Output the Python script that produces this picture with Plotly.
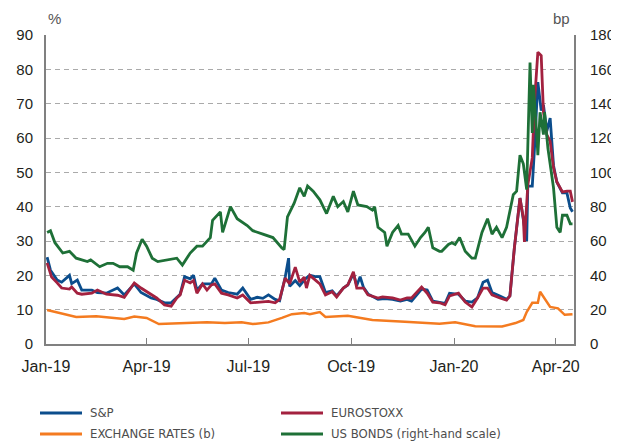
import pandas as pd
import plotly.graph_objects as go

BASE = pd.Timestamp("2019-01-01")

# S&P implied volatility (%), day offsets from 1 Jan 2019
sp_days = [1, 4, 10, 14, 21, 23, 28, 32, 41, 46, 54, 64, 70, 79, 85, 94, 99, 106, 112, 117, 120, 124, 129, 132,
           135, 140, 148, 151, 157, 163, 171, 176, 183, 189, 194, 199, 205, 209, 214, 217, 218, 223, 227, 232,
           234, 236, 241, 245, 250, 256, 260, 266, 270, 275, 278, 281, 284, 288, 297, 303, 310, 317, 323, 327,
           336, 341, 346, 352, 357, 361, 369, 375, 381, 386, 391, 395, 399, 406, 412, 415, 419, 424, 427, 430,
           431, 435, 437, 440, 443, 445, 448, 451, 454, 457, 462, 466, 469, 471]
sp_vals = [25.3, 21.5, 18.6, 18.0, 20.0, 17.6, 18.6, 15.7, 15.7, 15.0, 14.8, 16.3, 14.3, 17.5, 15.0, 13.4, 13.0,
           12.0, 12.0, 13.4, 14.5, 19.6, 19.0, 20.0, 15.7, 17.5, 17.5, 19.2, 15.7, 15.0, 14.5, 16.3, 13.0, 13.6,
           13.3, 14.3, 13.0, 12.6, 19.5, 25.0, 16.8, 18.5, 17.0, 19.0, 19.6, 20.0, 19.6, 19.6, 15.0, 15.5, 14.0,
           16.3, 17.2, 20.5, 17.0, 19.6, 16.5, 14.6, 13.0, 13.2, 13.0, 12.5, 13.0, 12.5, 16.0, 15.7, 12.5, 12.0,
           11.8, 14.8, 14.5, 12.5, 12.2, 13.4, 18.0, 18.6, 15.0, 14.0, 13.0, 14.0, 28.0, 42.5, 36.7, 30.0, 46.0,
           46.0, 57.0, 76.3, 68.0, 69.6, 62.0, 65.8, 52.0, 47.2, 44.0, 44.0, 39.6, 38.5]

# EUROSTOXX implied volatility (%)
eu_days = [1, 5, 10, 14, 21, 23, 28, 32, 41, 46, 54, 64, 70, 79, 85, 94, 99, 106, 112, 117, 120, 124, 129, 132,
           135, 140, 144, 148, 151, 157, 163, 171, 176, 183, 189, 194, 199, 205, 209, 214, 218, 223, 227, 231,
           233, 236, 241, 245, 250, 256, 260, 266, 270, 275, 278, 284, 288, 297, 301, 310, 317, 323, 327, 336,
           341, 346, 352, 357, 361, 369, 375, 381, 386, 391, 395, 399, 406, 412, 415, 419, 424, 427, 428, 431,
           435, 437, 440, 443, 445, 448, 451, 454, 457, 462, 466, 469, 471]
eu_vals = [23.6, 19.5, 17.8, 16.3, 16.0, 16.6, 14.8, 14.5, 14.8, 15.7, 14.5, 14.2, 13.6, 17.8, 16.3, 14.5, 13.4,
           11.4, 11.0, 13.4, 14.3, 18.6, 17.8, 18.5, 14.8, 17.5, 15.7, 17.2, 17.5, 14.8, 14.3, 13.4, 14.3, 12.0,
           12.2, 12.2, 12.4, 12.0, 13.0, 19.2, 17.5, 22.4, 18.0, 19.5, 16.3, 20.0, 18.6, 17.5, 14.3, 15.2, 13.7,
           16.3, 17.2, 21.0, 16.3, 16.3, 14.3, 13.4, 13.7, 13.4, 12.8, 13.4, 13.4, 16.6, 14.8, 12.2, 12.0, 11.4,
           14.0, 14.8, 12.2, 10.8, 13.4, 16.3, 16.3, 14.3, 13.4, 12.8, 14.0, 28.0, 42.5, 36.7, 29.7, 46.3, 54.2,
           70.5, 85.0, 84.0, 67.6, 61.0, 59.0, 51.3, 47.2, 44.3, 44.5, 44.5, 41.4]

# Exchange rates implied volatility (%)
fx_days = [1, 14, 27, 45, 58, 70, 79, 90, 101, 117, 130, 144, 160, 175, 185, 199, 211, 220, 231, 236, 245, 250,
           270, 292, 321, 345, 352, 366, 384, 408, 420, 427, 430, 435, 440, 442, 446, 451, 458, 464, 471]
fx_vals = [9.9, 8.8, 7.9, 8.1, 7.6, 7.3, 8.0, 7.6, 5.8, 6.0, 6.3, 6.3, 6.1, 6.3, 5.8, 6.3, 7.6, 8.7, 9.0, 8.7,
           9.3, 7.9, 8.2, 7.0, 6.5, 6.2, 5.9, 6.3, 5.2, 5.1, 6.1, 7.0, 9.3, 12.0, 12.0, 15.2, 13.4, 10.8, 10.4,
           8.5, 8.7]

# US bonds implied volatility (bp, right-hand scale)
us_days = [1, 4, 8, 15, 21, 27, 37, 40, 48, 55, 60, 66, 73, 78, 81, 86, 90, 95, 100, 108, 117, 122, 129, 135,
           140, 147, 149, 156, 158, 165, 171, 180, 185, 194, 203, 211, 213, 216, 222, 227, 231, 234, 239, 245,
           251, 257, 261, 266, 270, 275, 279, 287, 292, 294, 297, 303, 305, 310, 315, 318, 324, 330, 335, 339,
           342, 346, 352, 354, 360, 363, 366, 370, 375, 381, 384, 390, 395, 399, 403, 408, 412, 418, 421, 424,
           427, 430, 433, 435, 436, 439, 440, 442, 445, 446, 449, 454, 457, 460, 462, 466, 469, 471]
us_vals = [65, 66, 59, 53, 54, 50, 48, 49, 45, 47, 47, 45, 45, 43, 53, 61, 57, 50, 48, 49, 50, 46, 53, 57, 57,
           62, 72, 77, 65, 80, 73, 69, 66, 64, 62, 56, 55, 74, 82, 91, 86, 92, 89, 84, 76, 86, 80, 83, 77, 89, 81,
           80, 78, 80, 68, 65, 57, 65, 69, 64, 64, 57, 62, 65, 68, 56, 54, 54, 58, 59, 58, 62, 54, 50, 50, 65, 73,
           64, 68, 62, 68, 87, 89, 110, 105, 90, 164, 123, 151, 122, 110, 135, 122, 135, 114, 91, 68, 65, 75, 75,
           70, 70]

tick_dates = ["2019-01-01", "2019-04-01", "2019-07-01", "2019-10-01", "2020-01-01", "2020-04-01"]
tick_text = ["Jan-19", "Apr-19", "Jul-19", "Oct-19", "Jan-20", "Apr-20"]

legend_names = ["S&P", "EUROSTOXX", "EXCHANGE RATES (b)", "US BONDS (right-hand scale)"]


def to_dates(days):
    return [BASE + pd.Timedelta(days=d) for d in days]


BLUE = "#0b4d8c"
RED = "#a3213f"
ORANGE = "#f47b20"
GREEN = "#1e7037"
legend_colors = [BLUE, RED, ORANGE, GREEN]

fig = go.Figure()
fig.add_trace(go.Scatter(x=to_dates(fx_days), y=fx_vals, name=legend_names[2], mode="lines",
                         line=dict(color=ORANGE, width=2.5)))
fig.add_trace(go.Scatter(x=to_dates(sp_days), y=sp_vals, name=legend_names[0], mode="lines",
                         line=dict(color=BLUE, width=2.8)))
fig.add_trace(go.Scatter(x=to_dates(eu_days), y=eu_vals, name=legend_names[1], mode="lines",
                         line=dict(color=RED, width=2.8)))
fig.add_trace(go.Scatter(x=to_dates(us_days), y=us_vals, name=legend_names[3], mode="lines",
                         line=dict(color=GREEN, width=2.8), yaxis="y2"))

AXIS_GRAY = "#808080"
Y_FONT = dict(family="Liberation Sans, Arial, sans-serif", size=15, color="#231f20")
X_FONT = dict(family="Liberation Sans, Arial, sans-serif", size=16, color="#231f20")
LEG_FONT = dict(family="DejaVu Sans Condensed, sans-serif", size=13, color="#4d4d4d")

# Manual two-column legend (paper coordinates; plot area is 528 x 309 px, top-left at page 46,35)
PW, PH = 528.0, 309.0
shapes = []
annotations = []
col_x = [40, 281]
row_y = [413, 434]
for i, (name, color) in enumerate(zip(legend_names, legend_colors)):
    cx = col_x[i % 2]
    ry = row_y[i // 2]
    x0 = (cx - 46) / PW
    x1 = (cx + 42 - 46) / PW
    yy = (344 - ry) / PH
    shapes.append(dict(type="line", xref="paper", yref="paper", x0=x0, x1=x1, y0=yy, y1=yy,
                       line=dict(color=color, width=3)))
    annotations.append(dict(text=name, xref="paper", yref="paper", x=(cx + 48 - 46) / PW, y=yy,
                            xanchor="left", yanchor="middle", showarrow=False, font=LEG_FONT))

annotations += [
    dict(text="%", xref="paper", yref="paper", x=0, y=1, xanchor="left", yanchor="bottom",
         yshift=6, showarrow=False, font=dict(family="Liberation Sans, Arial, sans-serif", size=15,
                                              color="#555555")),
    dict(text="bp", xref="paper", yref="paper", x=0.997, y=1, xanchor="right", yanchor="bottom",
         yshift=6, showarrow=False, font=dict(family="Liberation Sans, Arial, sans-serif", size=15,
                                              color="#555555")),
]

# the page body adds an 8 px offset, so the figure is 8 px smaller and margins shifted
fig.update_layout(
    width=611, height=435,
    margin=dict(l=38, r=45, t=27, b=99, autoexpand=False),
    paper_bgcolor="white", plot_bgcolor="white",
    showlegend=False,
    xaxis=dict(type="date", range=["2019-01-01", "2020-04-17 08:00"],
               tickvals=tick_dates, ticktext=tick_text, ticks="inside", ticklen=6,
               tickcolor=AXIS_GRAY, tickwidth=1, showline=True, linecolor=AXIS_GRAY, linewidth=2,
               showgrid=False, zeroline=False, tickfont=X_FONT, ticklabelstandoff=7),
    yaxis=dict(range=[0, 90], dtick=10, showgrid=True, gridcolor="#aaaaaa", griddash="5px,4px",
               gridwidth=1, showline=True, linecolor=AXIS_GRAY, linewidth=2, zeroline=False, ticks="",
               tickfont=Y_FONT, ticklabelstandoff=8),
    yaxis2=dict(range=[0, 180], dtick=20, overlaying="y", side="right", showgrid=False,
                showline=True, linecolor=AXIS_GRAY, linewidth=2, zeroline=False, ticks="",
                tickfont=Y_FONT, ticklabelstandoff=11),
    shapes=shapes,
    annotations=annotations,
)

fig.write_html("out.html")
